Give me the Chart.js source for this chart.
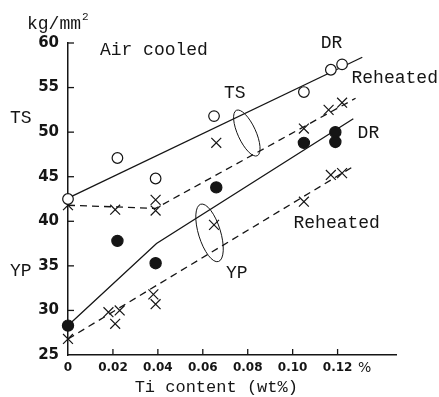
<!DOCTYPE html>
<html>
<head>
<meta charset="utf-8">
<script src="https://cdn.jsdelivr.net/npm/chart.js@4.4.0/dist/chart.umd.min.js"></script>
<style>
html, body { margin:0; padding:0; background:#fff; }
#wrap { width:439px; height:397px; }
</style>
</head>
<body>
<div id="wrap"><canvas id="chart" width="439" height="397"></canvas></div>
<script>
// measured points, Ti content (wt%) vs strength (kg/mm2)
var tsDrX = [0, 0.022, 0.039, 0.065, 0.105, 0.117, 0.122]
var tsDrY = [42.5, 47.1, 44.8, 51.8, 54.5, 57.0, 57.6]
var tsReX = [0, 0.021, 0.039, 0.039, 0.066, 0.105, 0.116, 0.122]
var tsReY = [41.8, 41.3, 42.4, 41.2, 48.8, 50.4, 52.5, 53.3]
var ypDrX = [0, 0.022, 0.039, 0.066, 0.105, 0.119, 0.119]
var ypDrY = [28.3, 37.8, 35.3, 43.8, 48.8, 50.0, 48.9]
var ypReX = [0, 0.018, 0.021, 0.023, 0.038, 0.039, 0.065, 0.105, 0.117, 0.122]
var ypReY = [26.8, 29.8, 28.5, 30.0, 31.8, 30.7, 39.6, 42.2, 45.2, 45.4]

// hand drawn trend lines
var tsDrFitX = [0, 0.131]
var tsDrFitY = [42.6, 58.4]
var tsReFitX = [0, 0.039, 0.128]
var tsReFitY = [41.8, 41.45, 53.8]
var ypDrFitX = [0, 0.0394, 0.127]
var ypDrFitY = [28.3, 37.5, 51.5]
var ypReFitX = [0, 0.128]
var ypReFitY = [26.8, 46.3]

var xTickLabels = ['0', '0.02', '0.04', '0.06', '0.08', '0.10', '0.12']
var yTicks = [25, 30, 35, 40, 45, 50, 55, 60]

var INK = '#151515'
var MONO = '"Liberation Mono", "DejaVu Sans Mono", monospace'

function pts(xs, ys) {
    return xs.map(function(x, i) { return {x: x, y: ys[i]} })
}

function markers(xs, ys, style, fill, r) {
    return {
        data: pts(xs, ys),
        pointStyle: style,
        pointRadius: r,
        pointBackgroundColor: fill,
        pointBorderColor: INK,
        pointBorderWidth: 1.2,
        showLine: false,
        clip: false,
        order: 0
    }
}

function fitLine(xs, ys, dashed) {
    return {
        data: pts(xs, ys),
        showLine: true,
        pointRadius: 0,
        borderColor: INK,
        borderWidth: 1.3,
        borderDash: dashed ? [7, 5] : [],
        tension: 0,
        clip: false,
        order: 1
    }
}

// inward tick marks, loops and free text
var decor = {
    id: 'decor',
    afterDatasetsDraw: function(chart) {
        var ctx = chart.ctx, xs = chart.scales.x, ys = chart.scales.y, a = chart.chartArea
        ctx.save()
        ctx.strokeStyle = INK
        ctx.lineWidth = 1.3
        ctx.setLineDash([])
        for (var i = 1; i < xTickLabels.length; i++) {
            var px = xs.getPixelForValue(i * 0.02)
            ctx.beginPath(); ctx.moveTo(px, a.bottom); ctx.lineTo(px, a.bottom - 6); ctx.stroke()
        }
        yTicks.forEach(function(v) {
            if (v === 25) return
            var py = ys.getPixelForValue(v)
            ctx.beginPath(); ctx.moveTo(a.left, py); ctx.lineTo(a.left + 6, py); ctx.stroke()
        })

        // loops grouping TS and YP lines
        ctx.lineWidth = 1
        var loops = [
            {x: 0.0796, y: 49.9, rx: 9, ry: 25, rot: -0.43},
            {x: 0.0630, y: 38.7, rx: 11, ry: 30, rot: -0.3}
        ]
        loops.forEach(function(l) {
            ctx.beginPath()
            ctx.ellipse(xs.getPixelForValue(l.x), ys.getPixelForValue(l.y), l.rx, l.ry, l.rot, 0, Math.PI * 2)
            ctx.stroke()
        })

        ctx.fillStyle = INK
        ctx.textBaseline = 'middle'
        ctx.font = '18px ' + MONO
        var notes = [
            ['Air cooled', 0.0142, 59.2, 'left'],
            ['DR', 0.1173, 60.0, 'center'],
            ['Reheated', 0.1262, 56.1, 'left'],
            ['TS', 0.0742, 54.4, 'center'],
            ['DR', 0.1289, 49.9, 'left'],
            ['YP', 0.0751, 34.2, 'center'],
            ['Reheated', 0.1196, 39.8, 'center']
        ]
        notes.forEach(function(n) {
            ctx.textAlign = n[3]
            ctx.fillText(n[0], xs.getPixelForValue(n[1]), ys.getPixelForValue(n[2]))
        })

        // labels outside the plot
        ctx.textAlign = 'left'
        ctx.fillText('TS', 10, ys.getPixelForValue(51.6))
        ctx.fillText('YP', 10, ys.getPixelForValue(34.4))
        ctx.fillText('kg/mm', 27, 24)
        ctx.font = '11px ' + MONO
        ctx.fillText('2', 82, 17)
        ctx.font = '17px ' + MONO
        ctx.textAlign = 'center'
        ctx.fillText('Ti content (wt%)', xs.getPixelForValue(0.066), a.bottom + 32)
        ctx.font = '14px "DejaVu Sans", sans-serif'
        ctx.fillText('%', xs.getPixelForValue(0.132), a.bottom + 13)
        ctx.restore()
    }
}

var chart = new Chart(document.getElementById('chart'), {
    type: 'scatter',
    data: {
        datasets: [
            markers(tsDrX, tsDrY, 'circle', '#fff', 5.3),
            markers(tsReX, tsReY, 'crossRot', INK, 7),
            markers(ypDrX, ypDrY, 'circle', INK, 5.6),
            markers(ypReX, ypReY, 'crossRot', INK, 7),
            fitLine(tsDrFitX, tsDrFitY, false),
            fitLine(tsReFitX, tsReFitY, true),
            fitLine(ypDrFitX, ypDrFitY, false),
            fitLine(ypReFitX, ypReFitY, true)
        ]
    },
    options: {
        responsive: false,
        animation: false,
        layout: {padding: {top: 43, right: 43, left: 0, bottom: 0}},
        plugins: {legend: {display: false}, tooltip: {enabled: false}},
        scales: {
            x: {
                type: 'linear', min: 0, max: 0.146,
                afterFit: function(s) { s.height = 42 },
                grid: {display: false, drawTicks: false},
                border: {display: true, color: INK, width: 1.5},
                ticks: {
                    stepSize: 0.02, padding: 6, color: INK, autoSkip: false, maxRotation: 0,
                    font: {family: '"DejaVu Sans", sans-serif', weight: 'bold', size: 12},
                    callback: function(v) {
                        var i = Math.round(v / 0.02)
                        if (Math.abs(v - i * 0.02) < 1e-6 && i < xTickLabels.length) return xTickLabels[i]
                        return null
                    }
                }
            },
            y: {
                type: 'linear', min: 25, max: 60,
                afterFit: function(s) { s.width = 68 },
                grid: {display: false, drawTicks: false},
                border: {display: true, color: INK, width: 1.5},
                ticks: {
                    stepSize: 5, padding: 9, color: INK,
                    font: {family: '"DejaVu Sans", sans-serif', weight: 'bold', size: 15}
                }
            }
        }
    },
    plugins: [decor]
})
</script>
</body>
</html>
